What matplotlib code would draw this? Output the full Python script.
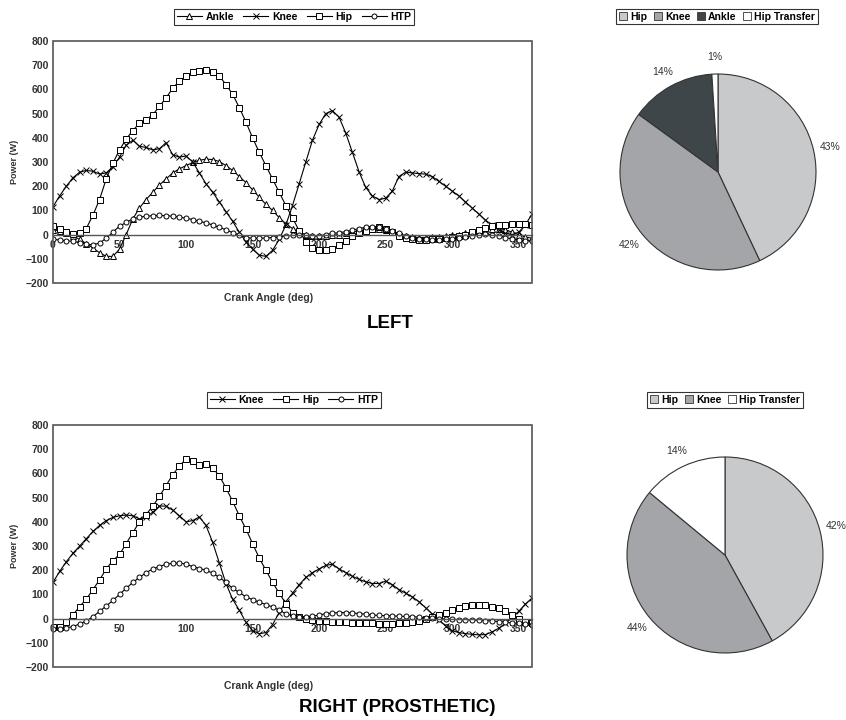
import matplotlib
matplotlib.use("Agg")
import matplotlib.pyplot as plt
from matplotlib.lines import Line2D
from matplotlib.patches import Rectangle, Patch

plt.rcParams['font.family'] = ['Liberation Sans', 'DejaVu Sans']

# crank angle, sampled every 5 deg
angle = list(range(0, 361, 5))

# LEFT leg joint powers (W)
left_ankle = [20, 15, 5, -5, -20, -38, -55, -75, -90, -90, -60, 0, 65, 110, 145, 175, 205, 230, 255,
              272, 285, 298, 307, 312, 310, 302, 285, 265, 240, 215, 185, 155, 125, 100, 70, 45, 25,
              10, 0, -5, -5, -5, -3, 0, 5, 10, 15, 20, 25, 25, 20, 10, 0, -5, -10, -12, -12, -10, -8,
              -5, -2, 0, 5, 10, 15, 20, 22, 25, 20, 10, 0, -10, -15]
left_knee = [115, 160, 200, 235, 258, 265, 262, 250, 255, 280, 320, 370, 390, 365, 360, 350, 355, 380,
             330, 320, 325, 300, 255, 210, 175, 135, 95, 55, 10, -30, -60, -85, -90, -65, -20, 40, 120,
             210, 300, 390, 455, 500, 512, 485, 420, 340, 260, 195, 160, 145, 150, 180, 240, 258, 255,
             252, 250, 240, 220, 200, 180, 160, 135, 110, 85, 60, 40, 20, 5, 0, 10, 40, 85]
left_hip = [35, 22, 10, 2, 8, 25, 80, 145, 230, 295, 350, 395, 430, 460, 475, 495, 530, 565, 605, 635,
            655, 670, 678, 680, 672, 655, 620, 580, 525, 465, 400, 340, 285, 230, 175, 120, 70, 15, -30,
            -55, -62, -63, -60, -45, -25, -5, 5, 15, 25, 30, 25, 10, -5, -15, -20, -22, -22, -20, -18,
            -15, -10, -5, 0, 10, 20, 28, 35, 38, 40, 42, 45, 45, 40]
left_htp = [-20, -22, -25, -28, -33, -40, -42, -35, -15, 10, 35, 50, 65, 72, 76, 78, 79, 78, 76, 72, 68,
            62, 55, 48, 40, 30, 20, 8, -2, -12, -15, -15, -14, -12, -10, -6, -3, -2, -3, -5, -5, 0, 5,
            8, 12, 18, 25, 30, 32, 30, 25, 15, 5, -5, -12, -18, -20, -22, -22, -20, -18, -15, -10, -5,
            0, 2, 0, -5, -12, -18, -22, -25, -28]

# RIGHT (prosthetic) leg joint powers (W)
right_knee = [150, 195, 235, 270, 300, 330, 360, 385, 405, 418, 425, 428, 425, 412, 420, 440, 465, 465,
              448, 425, 400, 405, 420, 385, 315, 230, 145, 80, 35, -15, -50, -62, -58, -25, 25, 70, 105,
              140, 170, 190, 205, 220, 225, 205, 190, 175, 162, 152, 145, 145, 155, 140, 120, 105, 90,
              70, 45, 20, -5, -30, -50, -58, -62, -65, -67, -66, -55, -40, -20, 5, 30, 60, 85]
right_hip = [-35, -33, -15, 15, 50, 80, 120, 160, 205, 240, 265, 310, 355, 400, 430, 465, 505, 550, 595,
             630, 660, 650, 635, 640, 622, 590, 540, 485, 425, 370, 310, 250, 200, 150, 105, 62, 25, 5,
             0, -5, -8, -10, -12, -14, -15, -17, -18, -19, -20, -22, -22, -22, -20, -18, -15, -10, -3,
             5, 15, 25, 35, 45, 52, 57, 58, 56, 50, 42, 30, 15, 0, -12, -20]
right_htp = [-45, -42, -38, -33, -22, -10, 8, 30, 52, 75, 100, 125, 150, 170, 190, 205, 215, 225, 228,
             230, 225, 215, 207, 200, 188, 170, 150, 125, 108, 90, 78, 68, 58, 48, 35, 20, 12, 8, 8, 10,
             15, 20, 23, 25, 25, 23, 21, 18, 15, 13, 12, 11, 10, 9, 8, 6, 4, 2, 0, -2, -3, -4, -5, -6,
             -7, -8, -10, -12, -15, -18, -20, -22, -25]

# work share pies
left_pie_labels = ['Hip', 'Knee', 'Ankle', 'Hip Transfer']
left_pie_values = [43, 42, 14, 1]
right_pie_labels = ['Hip', 'Knee', 'Hip Transfer']
right_pie_values = [42, 44, 14]
pie_colors = {'Hip': '#c8c9cb', 'Knee': '#a3a5a8', 'Ankle': '#3e464a', 'Hip Transfer': '#ffffff'}

styles = {
    'Ankle': dict(marker='^', ms=4.2),
    'Knee': dict(marker='x', ms=4.0),
    'Hip': dict(marker='s', ms=4.5),
    'HTP': dict(marker='o', ms=3.6),
}
txt_col = '#333333'

fig = plt.figure(figsize=(8.46, 7.2), dpi=100)


def line_panel(rect, series, xlabel_y, title, title_xy, leg_xy):
    ax = fig.add_axes(rect)
    handles = []
    for name, vals in series:
        st = styles[name]
        ax.plot(angle, vals, color='black', lw=0.8, marker=st['marker'], ms=st['ms'],
                mfc='white', mec='black', mew=0.7)
        handles.append(Line2D([], [], color='black', lw=0.8, marker=st['marker'], ms=st['ms'],
                              mfc='white', mec='black', mew=0.7, label=name))
    ax.set_xlim(0, 360)
    ax.set_ylim(-200, 800)
    ax.set_yticks(range(-200, 801, 100))
    ax.set_xticks(range(0, 351, 50))
    for s in ['top', 'right', 'left']:
        ax.spines[s].set_visible(False)
    ax.spines['bottom'].set_position(('data', 0))
    ax.spines['bottom'].set_color('#555555')
    ax.spines['bottom'].set_linewidth(1.0)
    ax.add_patch(Rectangle((0, 0), 1, 1, transform=ax.transAxes, fill=False,
                           ec='#555555', lw=1.2, clip_on=False, zorder=5))
    ax.tick_params(axis='both', labelsize=7.5, colors=txt_col, length=0, pad=4)
    ax.tick_params(axis='y', pad=3)
    for lab in ax.get_xticklabels() + ax.get_yticklabels():
        lab.set_fontweight('bold')
    ax.set_ylabel('Power (W)', fontsize=6.5, fontweight='bold', color=txt_col, labelpad=5)
    fig.text(rect[0] + rect[2] * 0.45, xlabel_y, 'Crank Angle (deg)', ha='center', va='center',
             fontsize=7.5, fontweight='bold', color=txt_col)
    fig.text(title_xy[0], title_xy[1], title, ha='center', va='center', fontsize=13.5,
             fontweight='bold', color='black')
    leg = fig.legend(handles=handles, loc='center', bbox_to_anchor=leg_xy, ncol=len(handles),
                     frameon=True, fancybox=False, edgecolor='black',
                     handlelength=2.4, handletextpad=0.35, columnspacing=0.9,
                     borderpad=0.25, prop={'weight': 'bold', 'size': 7.5})
    leg.get_frame().set_linewidth(0.8)
    return ax


def pie_panel(center, labels, values, leg_xy):
    r_w = 98 / 846
    r_h = 98 / 720
    ax = fig.add_axes([center[0] - r_w, center[1] - r_h, 2 * r_w, 2 * r_h])
    cols = [pie_colors[l] for l in labels]
    wedges, texts, autotexts = ax.pie(values, colors=cols, startangle=90, counterclock=False,
                                      autopct='%1.0f%%', pctdistance=1.17,
                                      wedgeprops=dict(edgecolor='#333333', linewidth=0.8))
    for t in autotexts:
        t.set_fontsize(7.5)
        t.set_color(txt_col)
    ax.set_xlim(-1, 1)
    ax.set_ylim(-1, 1)
    ax.set_aspect('equal')
    ax.axis('off')
    handles = [Patch(facecolor=pie_colors[l], edgecolor='#333333', lw=0.6, label=l) for l in labels]
    leg = fig.legend(handles=handles, loc='center', bbox_to_anchor=leg_xy, ncol=len(handles),
                     frameon=True, fancybox=False, edgecolor='black',
                     handlelength=0.8, handleheight=0.8, handletextpad=0.3, columnspacing=0.6,
                     borderpad=0.25, prop={'weight': 'bold', 'size': 7.5})
    leg.get_frame().set_linewidth(0.8)


line_panel([53 / 846, 1 - 283 / 720, 479 / 846, 242 / 720],
           [('Ankle', left_ankle), ('Knee', left_knee), ('Hip', left_hip), ('HTP', left_htp)],
           1 - 298 / 720, 'LEFT', (390 / 846, 1 - 324 / 720), (294 / 846, 1 - 17 / 720))
line_panel([53 / 846, 1 - 667 / 720, 479 / 846, 242 / 720],
           [('Knee', right_knee), ('Hip', right_hip), ('HTP', right_htp)],
           1 - 686 / 720, 'RIGHT (PROSTHETIC)', (397 / 846, 1 - 707 / 720), (294 / 846, 1 - 400 / 720))

pie_panel((718 / 846, 1 - 172 / 720), left_pie_labels, left_pie_values, (717 / 846, 1 - 16.5 / 720))
pie_panel((725 / 846, 1 - 555 / 720), right_pie_labels, right_pie_values, (725 / 846, 1 - 400 / 720))

fig.savefig('out.png', dpi=100)
